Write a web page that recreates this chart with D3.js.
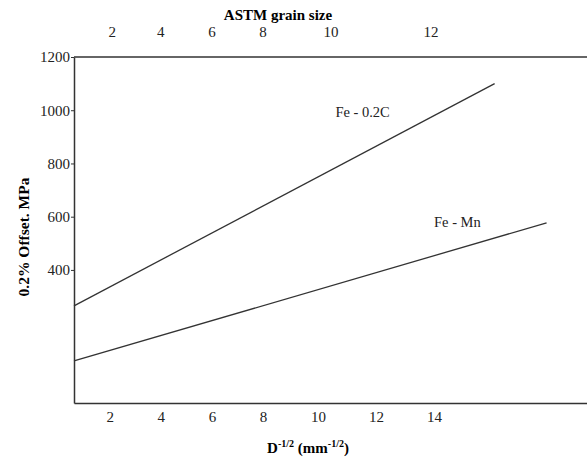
<!DOCTYPE html>
<html>
<head>
<meta charset="utf-8">
<script src="https://cdn.jsdelivr.net/npm/d3@7/dist/d3.min.js"></script>
<style>
    body { margin: 0; background: #fff; }
    svg { display: block; font-family: "Liberation Serif", "Times New Roman", serif; }
    .axis text { font-family: "Liberation Serif", "Times New Roman", serif; font-size: 15px; fill: #222; }
    .axis path, .axis line { stroke: #333; }
</style>
</head>
<body>
<svg id="chart" width="587" height="462"></svg>
<script>
'use strict';

// bottom axis, D^-1/2 (mm^-1/2)
var D_TICKS = [2, 4, 6, 8, 10, 12, 14];
// top axis, ASTM grain size, and where each one sits on the D^-1/2 axis
var ASTM_GRAIN = [2, 4, 6, 8, 10, 12];
var ASTM_AT_D = [2.1, 4, 6, 8, 10.45, 13.9];
var Y_TICKS = [400, 600, 800, 1000, 1200];

var SERIES_NAMES = ["Fe - 0.2C", "Fe - Mn"];
var FE_C_D = [0.6, 16.1];
var FE_C_MPA = [265, 1100];
var FE_MN_D = [0.6, 17.9];
var FE_MN_MPA = [58, 577];
// label anchor points (D, MPa)
var LABEL_D = [10.6, 14.0];
var LABEL_MPA = [975, 560];

var svg = d3.select("#chart");
var width = +svg.attr("width");

var plotLeft = 74, plotTop = 57, plotBottom = 403;

// the original axis is hand drawn, spacing widens after 8
var x = d3.scaleLinear()
    .domain([0.6, 8, 10, 14, 19.3])
    .range([plotLeft, 263, 318, 434, width]);

var y = d3.scaleLinear()
    .domain([-100, 1200])
    .range([plotBottom, plotTop]);

// frame: top line
svg.append("line")
    .attr("x1", plotLeft).attr("x2", width)
    .attr("y1", plotTop).attr("y2", plotTop)
    .style("stroke", "#333").style("stroke-width", 1.5);

var gx = svg.append("g")
    .attr("class", "axis")
    .attr("transform", "translate(0," + plotBottom + ")")
    .call(d3.axisBottom(x).tickValues(D_TICKS).tickSize(0).tickPadding(8).tickSizeOuter(0));
gx.select(".domain").style("stroke-width", 1.5);

var gy = svg.append("g")
    .attr("class", "axis")
    .attr("transform", "translate(" + plotLeft + ",0)")
    .call(d3.axisLeft(y).tickValues(Y_TICKS).tickFormat(d3.format("d"))
        .tickSize(3).tickPadding(1).tickSizeOuter(0));
gy.select(".domain").style("stroke-width", 1.5);

// top ASTM labels, no tick marks
svg.append("g")
    .attr("class", "axis")
    .selectAll("text")
    .data(ASTM_GRAIN)
    .enter()
    .append("text")
    .attr("x", function (d, i) { return x(ASTM_AT_D[i]); })
    .attr("y", 37)
    .attr("text-anchor", "middle")
    .text(function (d) { return d; });

svg.append("text")
    .attr("x", 278)
    .attr("y", 20)
    .attr("text-anchor", "middle")
    .style("font-weight", "bold")
    .style("font-size", "15px")
    .text("ASTM grain size");

// y title
svg.append("text")
    .attr("transform", "translate(29,237) rotate(-90)")
    .attr("text-anchor", "middle")
    .style("font-weight", "bold")
    .style("font-size", "15.5px")
    .text("0.2% Offset. MPa");

// x title with superscripts
var xt = svg.append("text")
    .attr("x", 308)
    .attr("y", 453)
    .attr("text-anchor", "middle")
    .style("font-weight", "bold")
    .style("font-size", "15px");
xt.append("tspan").text("D");
xt.append("tspan").attr("dy", -6).style("font-size", "10px").text("-1/2");
xt.append("tspan").attr("dy", 6).text(" (mm");
xt.append("tspan").attr("dy", -6).style("font-size", "10px").text("-1/2");
xt.append("tspan").attr("dy", 6).text(")");

var series = [
    {xs: FE_C_D, ys: FE_C_MPA},
    {xs: FE_MN_D, ys: FE_MN_MPA}
];

var line = d3.line()
    .x(function (d) { return x(d[0]); })
    .y(function (d) { return y(d[1]); });

svg.selectAll("path.series")
    .data(series)
    .enter()
    .append("path")
    .attr("class", "series")
    .attr("d", function (d) { return line(d3.zip(d.xs, d.ys)); })
    .style("fill", "none")
    .style("stroke", "#333")
    .style("stroke-width", 1.3);

svg.selectAll("text.label")
    .data(SERIES_NAMES)
    .enter()
    .append("text")
    .attr("class", "label")
    .attr("x", function (d, i) { return x(LABEL_D[i]); })
    .attr("y", function (d, i) { return y(LABEL_MPA[i]); })
    .style("font-size", "14.5px")
    .style("fill", "#222")
    .text(function (d) { return d; });
</script>
</body>
</html>
